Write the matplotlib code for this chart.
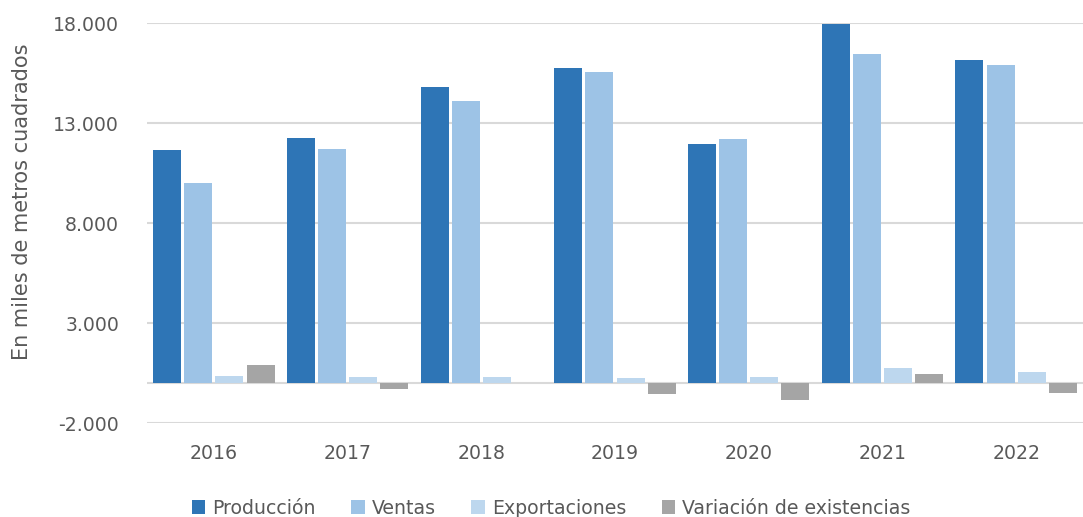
import matplotlib
matplotlib.use("Agg")
import matplotlib.pyplot as plt
import matplotlib.ticker as mticker
import numpy as np

years = ["2016", "2017", "2018", "2019", "2020", "2021", "2022"]
produccion = [11650, 12250, 14800, 15750, 11980, 17970, 16150]
ventas = [10000, 11700, 14100, 15570, 12230, 16470, 15900]
exportaciones = [350, 300, 300, 250, 300, 750, 550]
variacion = [900, -300, 0, -550, -850, 450, -500]

series_names = ["Producción", "Ventas", "Exportaciones", "Variación de existencias"]
colors = ["#2E75B6", "#9DC3E6", "#BDD7EE", "#A5A5A5"]

plt.rcParams['font.family'] = ['DejaVu Sans']
grey = "#595959"

W, H = 1083, 517
fig = plt.figure(figsize=(W / 100, H / 100), dpi=100)
ax = fig.add_axes([147 / W, (H - 423.3) / H, (W - 147) / W, 400 / H])

x = np.arange(len(years))
pitch = 0.233
w = 0.21
all_series = [produccion, ventas, exportaciones, variacion]
for i, (vals, c, name) in enumerate(zip(all_series, colors, series_names)):
    ax.bar(x + (i - 1.5) * pitch, vals, width=w, color=c, linewidth=0,
           label=name, zorder=3)

ax.set_xlim(-0.5, len(years) - 0.5)
ax.set_ylim(-2000, 18000)
ax.set_yticks([-2000, 3000, 8000, 13000, 18000])
ax.yaxis.set_major_formatter(mticker.FuncFormatter(lambda v, p: f"{int(v):,}".replace(",", ".")))
ax.set_xticks(x)
ax.set_xticklabels(years)
ax.tick_params(axis="both", length=0, colors=grey, labelsize=13.6)
ax.tick_params(axis="x", pad=15)
ax.tick_params(axis="y", pad=20)
for s in ax.spines.values():
    s.set_visible(False)
ax.grid(axis="y", color="#D9D9D9", linewidth=1.5, zorder=0)
ax.axhline(0, color="#D9D9D9", linewidth=1.5, zorder=2)
ax.set_axisbelow(True)

fig.text(22 / W, 1 - 201.5 / H, "En miles de metros cuadrados", rotation=90,
         ha="center", va="center", color=grey, fontsize=15)

leg = fig.legend(loc="center", bbox_to_anchor=(551 / W, 9 / H), ncol=4, frameon=False,
                 fontsize=13.6, handlelength=0.7, handleheight=0.7, handletextpad=0.37,
                 columnspacing=1.9, borderpad=0)
for t in leg.get_texts():
    t.set_color(grey)

fig.savefig("out.png", dpi=100)
